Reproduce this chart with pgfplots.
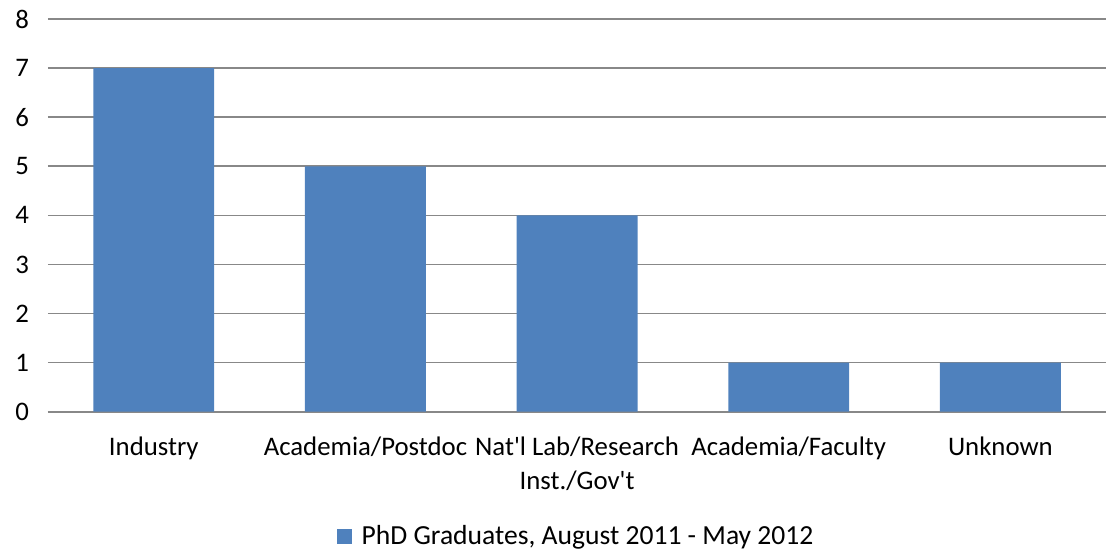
\documentclass[border=0pt]{standalone}
\usepackage{pgfplots}
\pgfplotsset{compat=1.18}
\usepackage{fontspec}
\setmainfont{Carlito}
\definecolor{barblue}{HTML}{4F81BD}
\definecolor{gridgray}{HTML}{888888}
\begin{document}
\begin{tikzpicture}
\begin{axis}[
  at={(0,0)}, anchor=south west,
  scale only axis, width=529.5pt, height=196.5pt,
  ybar, bar width=60.5pt,
  xmin=-0.5, xmax=4.5, ymin=0, ymax=8,
  xtick=data,
  xticklabels={Industry, Academia/Postdoc, {Nat\textquotesingle l Lab/Research\\Inst./Gov\textquotesingle t}, Academia/Faculty, Unknown},
  xticklabel style={align=center, font=\fontsize{13.4}{17}\selectfont, yshift=-9pt},
  ytick={0,1,...,8},
  yticklabel style={font=\fontsize{13.4}{15}\selectfont, xshift=-6pt},
  /pgf/number format/assume math mode=true,
  major tick length=0pt,
  ymajorgrids, grid style={gridgray, line width=0.8pt},
  axis x line*=bottom, axis y line*=left,
  y axis line style={draw=none},
  x axis line style={gridgray, line width=0.8pt, -},
  legend style={at={(axis description cs:0.5,-0.318)}, anchor=center, draw=none, font=\fontsize{13.8}{15}\selectfont, legend cell align=left,
    /tikz/every odd column/.append style={column sep=3pt}},
  legend image code/.code={\fill[#1] (0pt,-3.7pt) rectangle (7.4pt,3.7pt);},
]
\addplot[fill=barblue, draw=none] coordinates {(0,7) (1,5) (2,4) (3,1) (4,1)};
\addlegendentry{PhD Graduates, August 2011 - May 2012}
\end{axis}
\path[use as bounding box] (-24pt,-70pt) rectangle (529.5pt,206pt);
\end{tikzpicture}
\end{document}
